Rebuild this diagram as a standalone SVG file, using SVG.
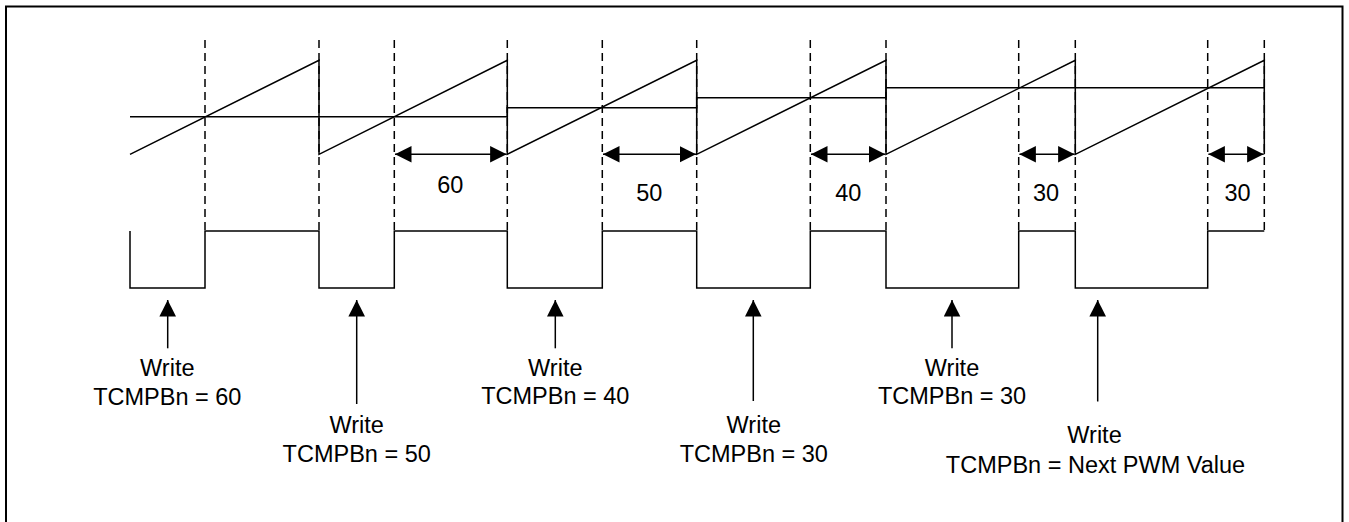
<svg xmlns="http://www.w3.org/2000/svg" width="1349" height="522" viewBox="0 0 1349 522">
<style>
.ln{fill:none;stroke:#000;stroke-width:1.5;stroke-linejoin:miter}
.dash{fill:none;stroke:#000;stroke-width:1.5;stroke-dasharray:8,5}
.txt{font-family:"Liberation Sans",Arial,sans-serif;font-size:23.5px;fill:#000;text-anchor:middle}
.arr{fill:none;stroke:#000;stroke-width:1.5}
</style>
<defs>
<marker id="ah" markerUnits="userSpaceOnUse" markerWidth="17" markerHeight="17" refX="16.5" refY="8.3" orient="auto-start-reverse" viewBox="0 0 17 17">
<path d="M0,0 L16.5,8.3 L0,16.6 z" fill="#000"/>
</marker>
</defs>
<rect x="0" y="0" width="1349" height="522" fill="#fff"/>
<g id="frame">
<rect x="6" y="6.5" width="1336.5" height="530" fill="none" stroke="#000" stroke-width="2"/>
</g>
<g id="guides">
<path class="dash" d="M205,40V231M319,40V231M394.3,40V231M507.3,40V231M602.3,40V231M696.7,40V231M810.3,40V231M886,40V231M1018.7,40V231M1075.3,40V231M1207.7,40V231M1264.3,40V231"/>
</g>
<g id="sawtooth">
<path class="ln" d="M130,154.3 L319,60.3 V154.3 L507.3,60.3 V154.3 L696.7,60.3 V154.3 L886,60.3 V154.3 L1075.3,60.3 V154.3 L1264.3,60.3 V154.3"/>
</g>
<g id="compare">
<path class="ln" d="M130,116.7 H507.3 V107.7 H696.7 V97.7 H886 V87.7 H1264.3"/>
</g>
<g id="pwm">
<path class="ln" d="M130,231 V288 H205 V231 H319 V288 H394.3 V231 H507.3 V288 H602.3 V231 H696.7 V288 H810.3 V231 H886 V288 H1018.7 V231 H1075.3 V288 H1207.7 V231 H1264.3"/>
</g>
<g id="connectors">
<line class="arr" x1="395" y1="154.3" x2="506.6" y2="154.3" marker-start="url(#ah)" marker-end="url(#ah)"/>
<line class="arr" x1="603" y1="154.3" x2="696" y2="154.3" marker-start="url(#ah)" marker-end="url(#ah)"/>
<line class="arr" x1="811" y1="154.3" x2="885.3" y2="154.3" marker-start="url(#ah)" marker-end="url(#ah)"/>
<line class="arr" x1="1019.4" y1="154.3" x2="1074.6" y2="154.3" marker-start="url(#ah)" marker-end="url(#ah)"/>
<line class="arr" x1="1208.4" y1="154.3" x2="1263.6" y2="154.3" marker-start="url(#ah)" marker-end="url(#ah)"/>
<line class="arr" x1="167.7" y1="348.3" x2="167.7" y2="300" marker-end="url(#ah)"/>
<line class="arr" x1="356.7" y1="404" x2="356.7" y2="300" marker-end="url(#ah)"/>
<line class="arr" x1="555.3" y1="348.3" x2="555.3" y2="300" marker-end="url(#ah)"/>
<line class="arr" x1="753.3" y1="401" x2="753.3" y2="300" marker-end="url(#ah)"/>
<line class="arr" x1="952" y1="348.3" x2="952" y2="300" marker-end="url(#ah)"/>
<line class="arr" x1="1097.7" y1="401.5" x2="1097.7" y2="300" marker-end="url(#ah)"/>
</g>
<g id="dim-labels">
<text class="txt" x="450.3" y="192.7">60</text>
<text class="txt" x="649.3" y="200.5">50</text>
<text class="txt" x="848.2" y="200.5">40</text>
<text class="txt" x="1046" y="200.5">30</text>
<text class="txt" x="1237.5" y="200.5">30</text>
</g>
<g id="label1"><text class="txt" x="167.3" y="375.7">Write</text><text class="txt" x="167.3" y="405">TCMPBn = 60</text></g>
<g id="label2"><text class="txt" x="356.7" y="433.3">Write</text><text class="txt" x="356.7" y="462.3">TCMPBn = 50</text></g>
<g id="label3"><text class="txt" x="555.3" y="376">Write</text><text class="txt" x="555.3" y="404">TCMPBn = 40</text></g>
<g id="label4"><text class="txt" x="753.8" y="433.3">Write</text><text class="txt" x="753.8" y="462.3">TCMPBn = 30</text></g>
<g id="label5"><text class="txt" x="952" y="376">Write</text><text class="txt" x="952" y="404">TCMPBn = 30</text></g>
<g id="label6"><text class="txt" x="1094.5" y="442.7">Write</text><text class="txt" x="1095.5" y="472.7">TCMPBn = Next PWM Value</text></g>
</svg>
